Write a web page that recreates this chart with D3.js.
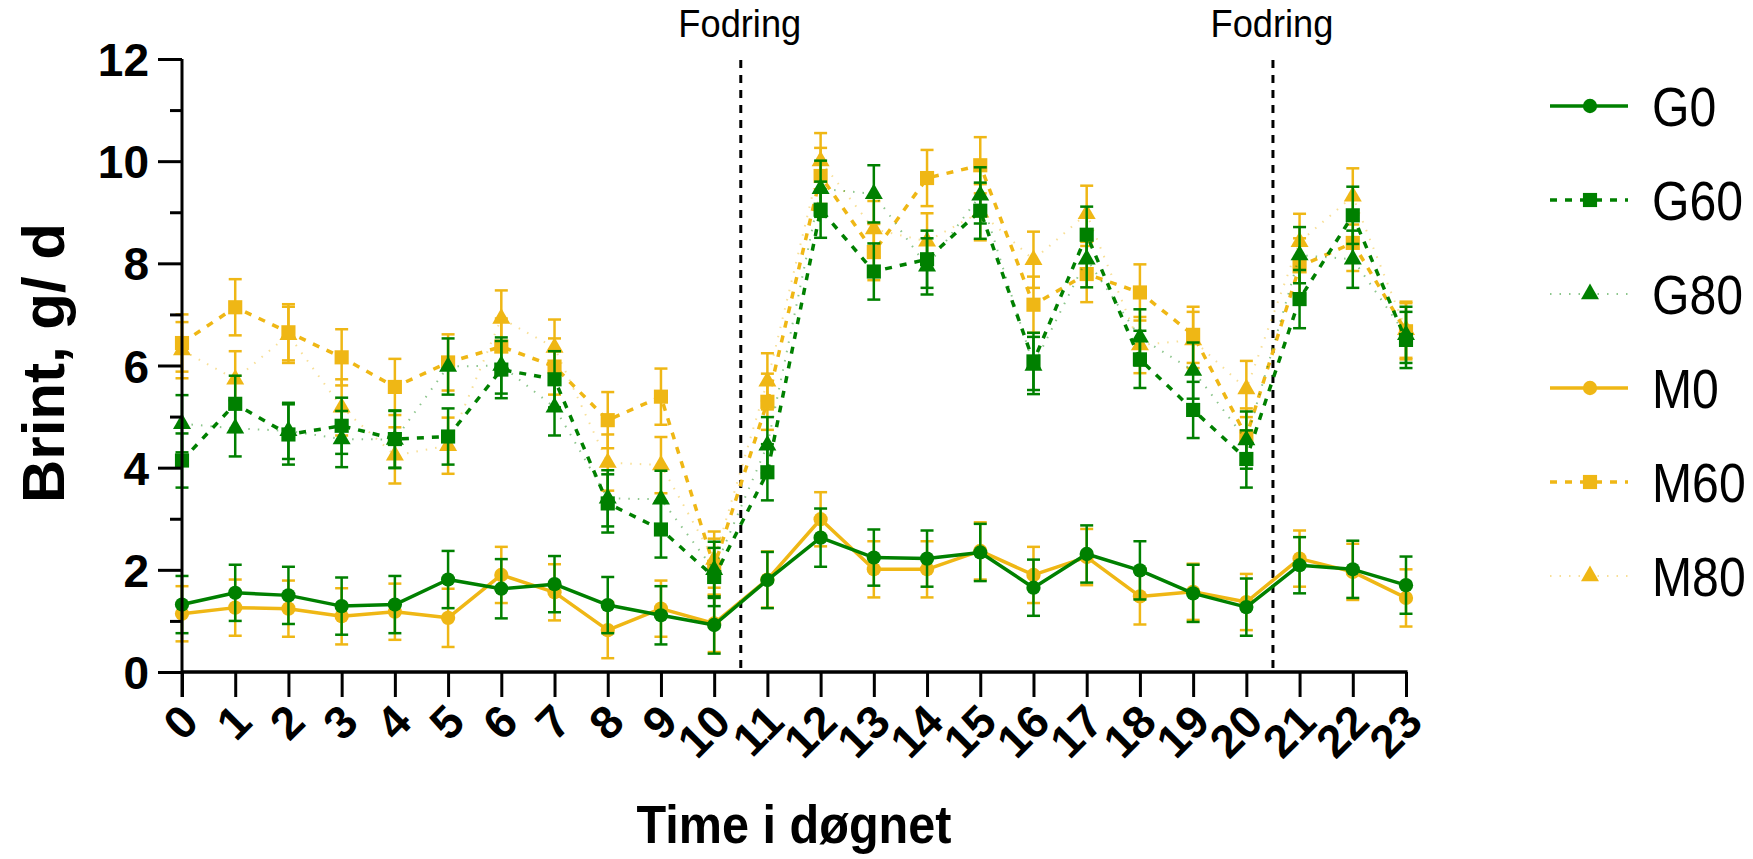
<!DOCTYPE html>
<html>
<head>
<meta charset="utf-8">
<script src="https://cdn.jsdelivr.net/npm/d3@7"></script>
<style>
  html, body { margin: 0; padding: 0; background: #fff; }
  svg { display: block; font-family: "Liberation Sans", Arial, sans-serif; }
</style>
</head>
<body>
<svg id="chart" width="1753" height="859"></svg>
<script>
// ---------- DATA ----------
const hours = [0,1,2,3,4,5,6,7,8,9,10,11,12,13,14,15,16,17,18,19,20,21,22,23];
const hourLabels = ["0","1","2","3","4","5","6","7","8","9","10","11","12","13","14","15","16","17","18","19","20","21","22","23"];
const yMajorTicks = [0,2,4,6,8,10,12];
const yMinorTicks = [1,3,5,7,9,11];
const feedingHours = [10.5, 20.5];
const feedingLabel = "Fodring";
const seriesNames = ["G0","G60","G80","M0","M60","M80"];

const G0  = [1.32,1.55,1.50,1.29,1.32,1.81,1.63,1.72,1.31,1.11,0.92,1.80,2.63,2.24,2.22,2.34,1.65,2.31,1.99,1.54,1.27,2.09,2.01,1.70];
const G60 = [4.14,5.25,4.65,4.82,4.56,4.61,5.92,5.73,3.30,2.79,1.86,3.91,9.05,7.84,8.08,9.03,6.08,8.56,6.12,5.13,4.17,7.30,8.94,6.50];
const G80 = [4.86,4.77,4.72,4.56,4.55,5.98,6.00,5.18,3.40,3.38,2.00,4.44,9.46,9.36,7.94,9.33,6.00,8.08,6.55,5.90,4.54,8.16,8.08,6.60];
const M0  = [1.14,1.26,1.24,1.09,1.18,1.06,1.90,1.56,0.82,1.24,0.95,1.81,2.99,2.01,2.01,2.37,1.90,2.25,1.48,1.57,1.37,2.22,1.96,1.45];
const M60 = [6.44,7.14,6.65,6.16,5.58,6.06,6.37,5.98,4.93,5.39,2.06,5.29,9.71,8.22,9.67,9.92,7.19,7.79,7.43,6.60,4.61,7.94,8.40,6.67];
const M80 = [6.30,5.73,6.60,5.18,4.24,4.43,6.92,6.35,4.10,4.05,2.20,5.69,10.00,8.67,8.43,9.00,8.07,8.97,6.40,6.50,5.54,8.42,9.31,6.70];

const G0err  = [0.56,0.55,0.56,0.56,0.56,0.56,0.58,0.55,0.55,0.57,0.56,0.55,0.57,0.55,0.55,0.56,0.55,0.56,0.57,0.56,0.56,0.55,0.56,0.56];
const G60err = [0.53,0.55,0.59,0.55,0.56,0.55,0.56,0.55,0.57,0.55,0.57,0.55,0.55,0.55,0.56,0.55,0.56,0.55,0.56,0.55,0.56,0.57,0.56,0.55];
const G80err = [0.56,0.55,0.55,0.55,0.56,0.55,0.55,0.55,0.55,0.56,0.55,0.55,0.55,0.56,0.55,0.55,0.56,0.55,0.55,0.55,0.56,0.55,0.56,0.55];
const M0err  = [0.54,0.55,0.55,0.55,0.55,0.57,0.55,0.55,0.55,0.55,0.56,0.55,0.53,0.55,0.55,0.56,0.55,0.55,0.55,0.55,0.55,0.55,0.55,0.56];
const M60err = [0.56,0.55,0.55,0.55,0.55,0.55,0.55,0.55,0.55,0.55,0.55,0.55,0.55,0.55,0.55,0.55,0.55,0.55,0.55,0.55,0.55,0.55,0.55,0.55];
const M80err = [0.55,0.55,0.55,0.55,0.55,0.55,0.55,0.55,0.55,0.55,0.55,0.55,0.55,0.55,0.55,0.55,0.55,0.55,0.55,0.55,0.55,0.55,0.55,0.55];

// ---------- STYLE ----------
const GREEN = "#008000";
const GOLD = "#EFB715";
const seriesDefs = [
  {name:"G0",  vals:G0,  err:G0err,  color:GREEN, sym:"circle",   dash:null,    lw:3.5, lineColor:GREEN, lineOp:1},
  {name:"G60", vals:G60, err:G60err, color:GREEN, sym:"square",   dash:"7,8",   lw:3.5, lineColor:GREEN, lineOp:1},
  {name:"G80", vals:G80, err:G80err, color:GREEN, sym:"triangle", dash:"1.5,8", lw:2,   lineColor:GREEN, lineOp:0.45},
  {name:"M0",  vals:M0,  err:M0err,  color:GOLD,  sym:"circle",   dash:null,    lw:3.5, lineColor:GOLD,  lineOp:1},
  {name:"M60", vals:M60, err:M60err, color:GOLD,  sym:"square",   dash:"7,8",   lw:3.5, lineColor:GOLD,  lineOp:1},
  {name:"M80", vals:M80, err:M80err, color:GOLD,  sym:"triangle", dash:"1.5,8", lw:2,   lineColor:GOLD,  lineOp:0.45}
];

const svg = d3.select("#chart");
const x = d3.scaleLinear().domain([0, 23]).range([182, 1406]);
const y = d3.scaleLinear().domain([0, 12]).range([672, 59]);

const symGen = {
  circle: d3.symbol().type(d3.symbolCircle).size(160),
  square: d3.symbol().type(d3.symbolSquare).size(200),
  triangle: d3.symbol().type(d3.symbolTriangle).size(140)
};

// ---------- FEEDING LINES ----------
feedingHours.forEach(h => {
  svg.append("line")
    .attr("x1", x(h)).attr("x2", x(h))
    .attr("y1", 60).attr("y2", y(0))
    .attr("stroke", "#000").attr("stroke-width", 3)
    .attr("stroke-dasharray", "8,7");
  svg.append("text")
    .attr("transform", `translate(${x(h) - 1},37) scale(0.93,1)`)
    .attr("text-anchor", "middle")
    .attr("font-size", 39)
    .attr("fill", "#000")
    .text(feedingLabel);
});

// ---------- SERIES (drawn in reverse so G0 is on top) ----------
const plot = svg.append("g");
seriesDefs.slice().reverse().forEach(s => {
  const g = plot.append("g");
  hours.forEach((h, i) => {
    const cx = x(h), hi = y(s.vals[i] + s.err[i]), lo = y(s.vals[i] - s.err[i]);
    g.append("line").attr("x1", cx).attr("x2", cx).attr("y1", hi).attr("y2", lo)
      .attr("stroke", s.color).attr("stroke-width", 2.5);
    g.append("line").attr("x1", cx - 6.5).attr("x2", cx + 6.5).attr("y1", hi).attr("y2", hi)
      .attr("stroke", s.color).attr("stroke-width", 2.5);
    g.append("line").attr("x1", cx - 6.5).attr("x2", cx + 6.5).attr("y1", lo).attr("y2", lo)
      .attr("stroke", s.color).attr("stroke-width", 2.5);
  });
  const line = d3.line().x((d, i) => x(hours[i])).y(d => y(d));
  g.append("path").datum(s.vals)
    .attr("d", line)
    .attr("fill", "none")
    .attr("stroke", s.lineColor)
    .attr("stroke-opacity", s.lineOp)
    .attr("stroke-width", s.lw)
    .attr("stroke-dasharray", s.dash)
    .attr("stroke-linejoin", "round");
  g.selectAll("path.m").data(s.vals).enter().append("path")
    .attr("class", "m")
    .attr("d", symGen[s.sym])
    .attr("transform", (d, i) => `translate(${x(hours[i])},${y(d)})`)
    .attr("fill", s.color);
});

// ---------- AXES ----------
const axG = svg.append("g");
axG.append("line").attr("x1", x(0)).attr("x2", x(0)).attr("y1", y(12)).attr("y2", y(0) + 25)
  .attr("stroke", "#000").attr("stroke-width", 3);
axG.append("line").attr("x1", x(0)).attr("x2", x(23) + 1.5).attr("y1", y(0)).attr("y2", y(0))
  .attr("stroke", "#000").attr("stroke-width", 3.5);

const yAxisMajor = d3.axisLeft(y).tickValues(yMajorTicks).tickSize(24).tickSizeOuter(0).tickPadding(9);
const yAxisMinor = d3.axisLeft(y).tickValues(yMinorTicks).tickSize(12).tickSizeOuter(0).tickFormat("");
const yg = axG.append("g").attr("transform", `translate(${x(0)},0)`).call(yAxisMajor);
axG.append("g").attr("transform", `translate(${x(0)},0)`).call(yAxisMinor)
  .call(g => g.select(".domain").remove())
  .selectAll("line").attr("stroke", "#000").attr("stroke-width", 3);
yg.select(".domain").remove();
yg.selectAll("line").attr("stroke", "#000").attr("stroke-width", 3);
yg.selectAll("text")
  .attr("font-family", "Liberation Sans, Arial, sans-serif")
  .attr("font-size", 46).attr("font-weight", "bold").attr("fill", "#000")
  .attr("dy", "0.36em");

const xAxis = d3.axisBottom(x).tickValues(hours).tickFormat((d, i) => hourLabels[i])
  .tickSize(25).tickSizeOuter(0);
const xg = axG.append("g").attr("transform", `translate(0,${y(0)})`).call(xAxis);
xg.select(".domain").remove();
xg.selectAll("line").attr("stroke", "#000").attr("stroke-width", 3);
xg.selectAll("text")
  .attr("font-family", "Liberation Sans, Arial, sans-serif")
  .attr("font-size", 46).attr("font-weight", "bold").attr("fill", "#000")
  .attr("text-anchor", "end")
  .attr("x", 0).attr("y", 0).attr("dy", "0.72em")
  .attr("transform", "translate(-5,29) rotate(-45)");

// ---------- AXIS TITLES ----------
svg.append("text")
  .attr("transform", "translate(64,363) rotate(-90)")
  .attr("text-anchor", "middle")
  .attr("font-size", 60).attr("font-weight", "bold").attr("fill", "#000")
  .text("Brint, g/ d");

svg.append("text")
  .attr("transform", `translate(${(x(0) + x(23)) / 2},843) scale(0.9,1)`)
  .attr("text-anchor", "middle")
  .attr("font-size", 54).attr("font-weight", "bold").attr("fill", "#000")
  .text("Time i døgnet");

// ---------- LEGEND ----------
const legY0 = 106, legStep = 94;
seriesDefs.forEach((s, i) => {
  const cy = legY0 + i * legStep;
  const g = svg.append("g");
  g.append("line").attr("x1", 1550).attr("x2", 1628).attr("y1", cy).attr("y2", cy)
    .attr("stroke", s.lineColor).attr("stroke-opacity", s.lineOp)
    .attr("stroke-width", s.lw).attr("stroke-dasharray", s.dash);
  g.append("path").attr("d", symGen[s.sym]).attr("transform", `translate(1590,${cy})`)
    .attr("fill", s.color);
  g.append("text").attr("transform", `translate(1652,${cy}) scale(0.86,1)`)
    .attr("dy", "0.36em")
    .attr("font-size", 56).attr("fill", "#000")
    .text(seriesNames[i]);
});
</script>
</body>
</html>
